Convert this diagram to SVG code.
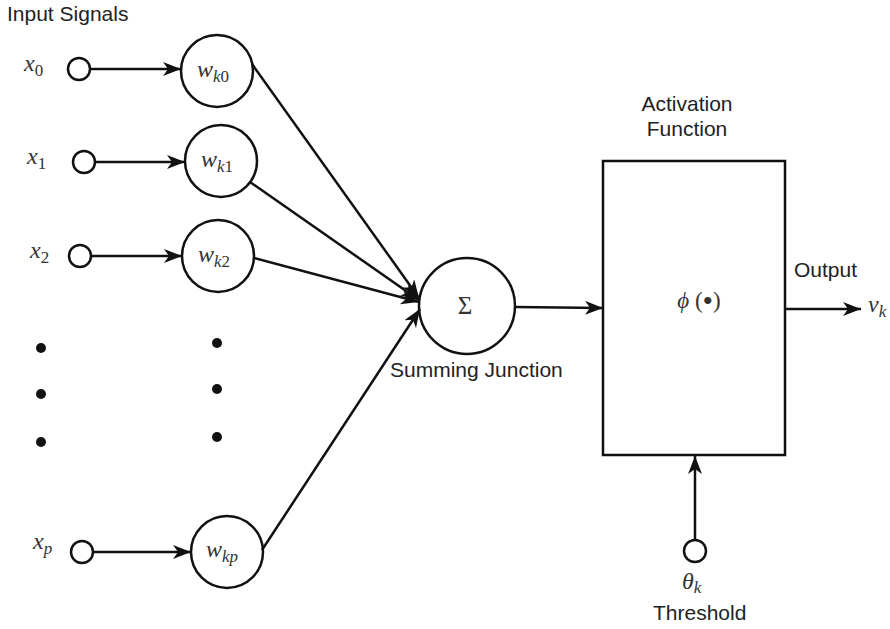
<svg xmlns="http://www.w3.org/2000/svg" width="890" height="629" viewBox="0 0 890 629">
<defs>
<marker id="arr" markerUnits="userSpaceOnUse" markerWidth="20" markerHeight="16" refX="18" refY="7" orient="auto">
<path d="M0,0 L18,7 L0,14 L5,7 z" fill="#111"/>
</marker>
<style>
.c{fill:#fff;stroke:#111;stroke-width:2.5}
.l{fill:none;stroke:#111;stroke-width:2.5}
.t{font-family:"Liberation Sans",Arial,sans-serif;font-size:21px;fill:#222}
.m{font-family:"Liberation Serif","Times New Roman",serif;font-size:24px;font-style:italic;fill:#333}
.s{font-size:17px}
.n{font-style:normal}
.d{fill:#111}
</style>
</defs>
<rect width="890" height="629" fill="#fff"/>
<text class="t" x="7" y="21">Input Signals</text>

<g id="x0"><circle class="c" cx="79" cy="69" r="11"/><text class="m" x="24" y="71">x<tspan class="s n" dy="5">0</tspan></text></g>
<g id="x1"><circle class="c" cx="84" cy="162" r="11"/><text class="m" x="27" y="164">x<tspan class="s n" dy="5">1</tspan></text></g>
<g id="x2"><circle class="c" cx="80" cy="256" r="11"/><text class="m" x="30" y="258">x<tspan class="s n" dy="5">2</tspan></text></g>
<g id="xp"><circle class="c" cx="82" cy="552" r="11"/><text class="m" x="33" y="549">x<tspan class="s" dy="5">p</tspan></text></g>

<g id="wk0"><circle class="c" cx="217" cy="71" r="36"/><text class="m" x="197" y="77">w<tspan class="s" dy="5">k</tspan><tspan class="s n">0</tspan></text></g>
<g id="wk1"><circle class="c" cx="221" cy="161" r="36"/><text class="m" x="201" y="167">w<tspan class="s" dy="5">k</tspan><tspan class="s n">1</tspan></text></g>
<g id="wk2"><circle class="c" cx="218" cy="256" r="36"/><text class="m" x="198" y="262">w<tspan class="s" dy="5">k</tspan><tspan class="s n">2</tspan></text></g>
<g id="wkp"><circle class="c" cx="227" cy="552" r="36"/><text class="m" x="206" y="557">w<tspan class="s" dy="5">kp</tspan></text></g>

<g id="dots">
<circle class="d" cx="41" cy="348" r="5"/><circle class="d" cx="41" cy="394" r="5"/><circle class="d" cx="41" cy="442" r="5"/>
<circle class="d" cx="217" cy="343" r="5"/><circle class="d" cx="217" cy="389" r="5"/><circle class="d" cx="217" cy="437" r="5"/>
</g>

<g id="sum"><circle class="c" cx="467" cy="306" r="48"/><text x="465" y="314" text-anchor="middle" style="font-family:'Liberation Serif',serif;font-size:25px;fill:#333">Σ</text>
<text class="t" x="390" y="377">Summing Junction</text></g>

<g id="act"><rect x="603" y="161" width="182" height="294" fill="#fff" stroke="#111" stroke-width="2.5"/>
<text class="t" x="687" y="111" text-anchor="middle">Activation</text>
<text class="t" x="687" y="136" text-anchor="middle">Function</text>
<text x="699" y="308" text-anchor="middle" style="font-family:'Liberation Serif',serif;font-size:23px;fill:#333"><tspan font-style="italic">ϕ</tspan> (<tspan font-size="30" dy="3">•</tspan><tspan dy="-3">)</tspan></text></g>

<g id="theta"><circle class="c" cx="695" cy="551" r="11"/><text class="m" x="682" y="589">θ<tspan class="s" dy="4">k</tspan></text>
<text class="t" x="653" y="620">Threshold</text></g>

<g id="out"><text class="t" x="794" y="277">Output</text><text class="m" x="868" y="312">v<tspan class="s" dy="5">k</tspan></text></g>

<g id="connectors">
<line class="l" x1="90" y1="69" x2="181" y2="69" marker-end="url(#arr)"/>
<line class="l" x1="95" y1="162" x2="185" y2="162" marker-end="url(#arr)"/>
<line class="l" x1="91" y1="256" x2="182" y2="256" marker-end="url(#arr)"/>
<line class="l" x1="93" y1="552" x2="191" y2="552" marker-end="url(#arr)"/>
<line class="l" x1="252" y1="64" x2="419" y2="298" marker-end="url(#arr)"/>
<line class="l" x1="250" y1="182" x2="419" y2="300" marker-end="url(#arr)"/>
<line class="l" x1="254" y1="258" x2="419" y2="302" marker-end="url(#arr)"/>
<line class="l" x1="262" y1="550" x2="420" y2="309" marker-end="url(#arr)"/>
<line class="l" x1="515" y1="307" x2="603" y2="308" marker-end="url(#arr)"/>
<line class="l" x1="785" y1="309" x2="861" y2="309" marker-end="url(#arr)"/>
<line class="l" x1="695" y1="540" x2="695" y2="456" marker-end="url(#arr)"/>
</g>
</svg>
